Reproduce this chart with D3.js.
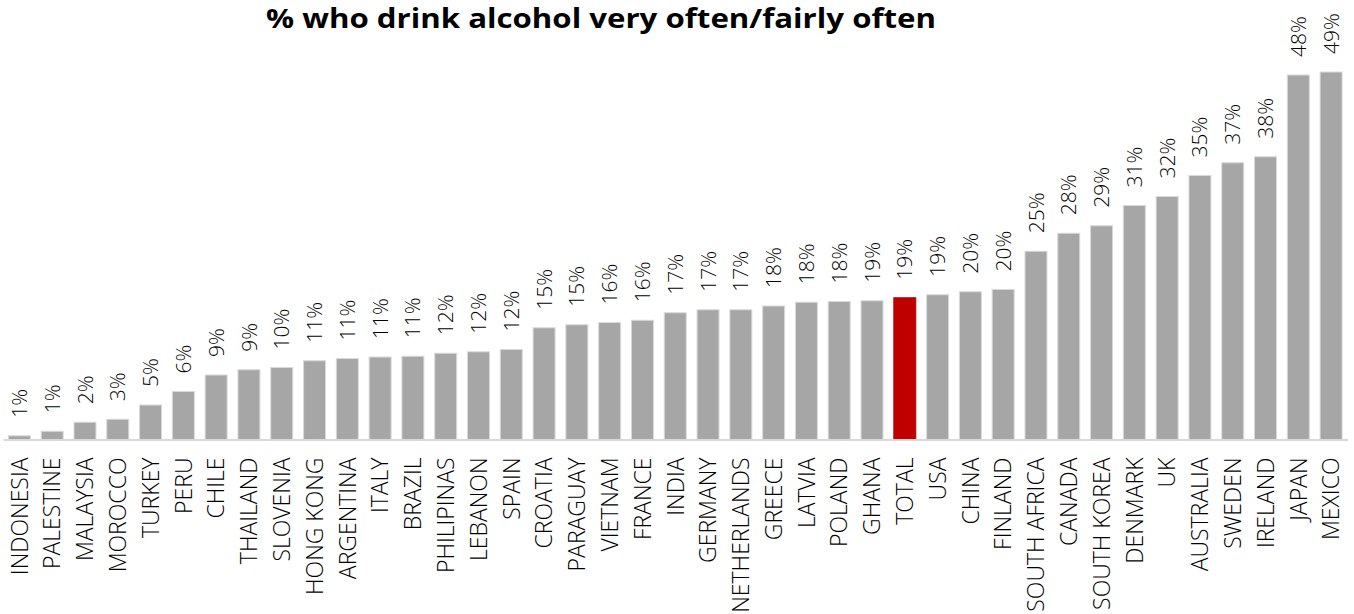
<!DOCTYPE html>
<html>
<head>
<meta charset="utf-8">
<script src="https://cdn.jsdelivr.net/npm/d3@7"></script>
<style>
  html, body { margin: 0; padding: 0; background: #fff; }
  svg { display: block; }
</style>
</head>
<body>
<svg id="chart" width="1354" height="614"></svg>
<script>
const title = "% who drink alcohol very often/fairly often";
const categories = ["INDONESIA","PALESTINE","MALAYSIA","MOROCCO","TURKEY","PERU","CHILE","THAILAND","SLOVENIA","HONG KONG","ARGENTINA","ITALY","BRAZIL","PHILIPINAS","LEBANON","SPAIN","CROATIA","PARAGUAY","VIETNAM","FRANCE","INDIA","GERMANY","NETHERLANDS","GREECE","LATVIA","POLAND","GHANA","TOTAL","USA","CHINA","FINLAND","SOUTH AFRICA","CANADA","SOUTH KOREA","DENMARK","UK","AUSTRALIA","SWEDEN","IRELAND","JAPAN","MEXICO"];
const values = [0.5,1.1,2.3,2.7,4.6,6.4,8.6,9.3,9.6,10.5,10.8,11.0,11.1,11.5,11.7,12.0,14.9,15.3,15.6,15.9,16.9,17.3,17.3,17.8,18.3,18.4,18.5,18.9,19.3,19.7,20.0,25.1,27.5,28.5,31.2,32.4,35.2,36.9,37.7,48.6,49.0];
const valueLabels = ["1%","1%","2%","3%","5%","6%","9%","9%","10%","11%","11%","11%","11%","12%","12%","12%","15%","15%","16%","16%","17%","17%","17%","18%","18%","18%","19%","19%","19%","20%","20%","25%","28%","29%","31%","32%","35%","37%","38%","48%","49%"];
const highlight = "TOTAL";

const svg = d3.select("#chart");
const baseY = 439.5;
const x = d3.scaleBand().domain(categories).range([3, 1347.5]).paddingInner(0.33).paddingOuter(0.165);
const y = d3.scaleLinear().domain([0, 49]).range([baseY, 72]);

const font = "'Open Sans', 'Noto Sans', sans-serif";

// title
svg.append("text")
  .attr("x", 601).attr("y", 28)
  .attr("text-anchor", "middle")
  .attr("font-family", font)
  .attr("font-weight", "bold")
  .attr("font-size", 26)
  .attr("textLength", 670)
  .attr("lengthAdjust", "spacingAndGlyphs")
  .attr("fill", "#000")
  .text(title);

// bars
svg.append("g").selectAll("rect")
  .data(categories)
  .join("rect")
  .attr("x", d => x(d))
  .attr("width", x.bandwidth())
  .attr("y", (d, i) => y(values[i]))
  .attr("height", (d, i) => baseY - y(values[i]))
  .attr("fill", d => d === highlight ? "#c00000" : "#a6a6a6")
  .attr("stroke", d => d === highlight ? "#c00000" : "#d9d9d9")
  .attr("stroke-width", 1);

// baseline axis
const axis = d3.axisBottom(x).tickSize(0).tickPadding(0);
const gAxis = svg.append("g").attr("transform", `translate(0,${baseY})`).call(axis);
gAxis.select(".domain").attr("stroke", "#d9d9d9").attr("stroke-width", 2);
gAxis.selectAll(".tick text")
  .attr("font-family", font)
  .attr("font-weight", 300)
  .attr("font-size", 23)
  .attr("fill", "#000")
  .attr("text-anchor", "end")
  .attr("transform", "rotate(-90)")
  .attr("x", -18)
  .attr("y", 0)
  .attr("dy", "0.36em");

// value labels
svg.append("g").selectAll("text")
  .data(categories)
  .join("text")
  .attr("transform", (d, i) => `translate(${x(d) + x.bandwidth() / 2},${y(values[i]) - 18}) rotate(-90)`)
  .attr("dy", "0.36em")
  .attr("text-anchor", "start")
  .attr("font-family", font)
  .attr("font-weight", 300)
  .attr("font-size", 21)
  .attr("fill", "#000")
  .text((d, i) => valueLabels[i]);
</script>
</body>
</html>
